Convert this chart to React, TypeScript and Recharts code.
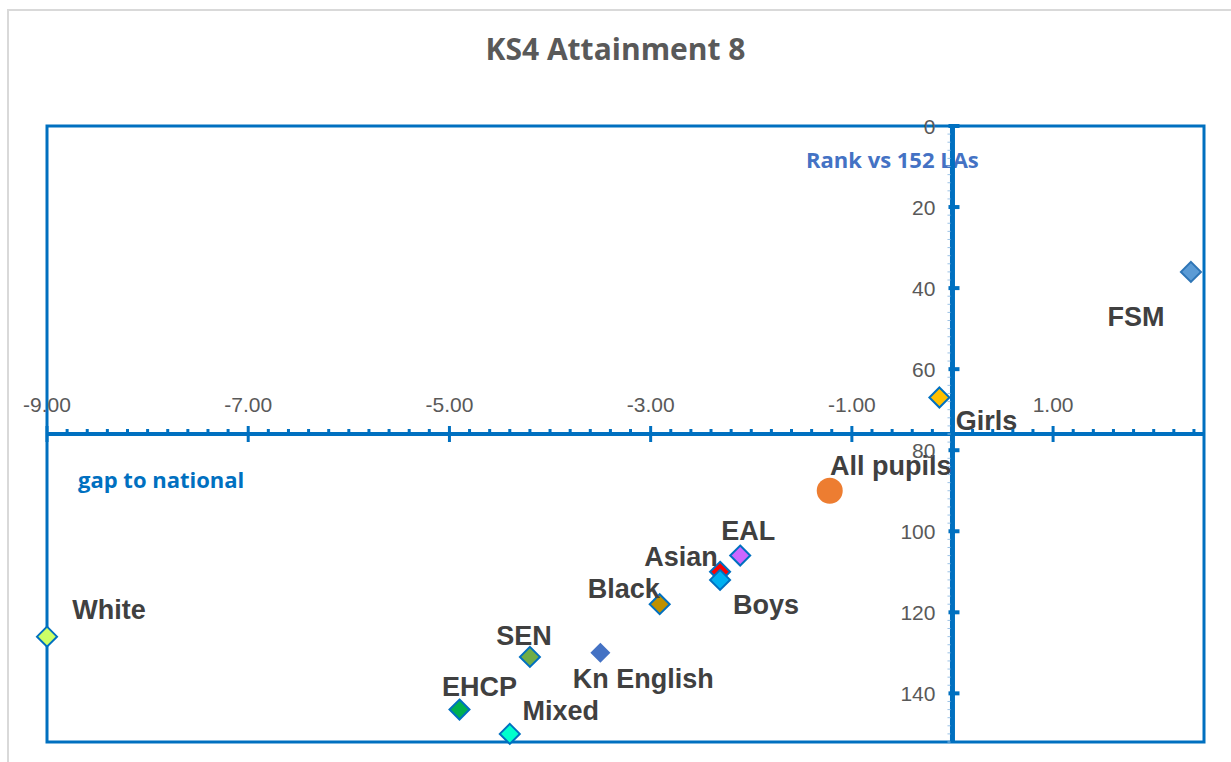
import React from "react";
import {
  ScatterChart,
  Scatter,
  XAxis,
  YAxis,
  ReferenceLine,
  ReferenceArea,
} from "recharts";

// pupil groups, in drawing order (Boys sits on top of Asian)
const groups = [
  "White",
  "EHCP",
  "Mixed",
  "SEN",
  "Kn English",
  "Black",
  "Asian",
  "Boys",
  "EAL",
  "All pupils",
  "Girls",
  "FSM",
];
const gapToNational = [-9.0, -4.9, -4.4, -4.2, -3.5, -2.91, -2.31, -2.31, -2.11, -1.22, -0.13, 2.37];
const rankVsLAs = [126, 144, 150, 131, 130, 118, 110, 112, 106, 90, 67, 36];

const xTickLabels = [-9, -7, -5, -3, -1, 1];
const yTickLabels = [0, 20, 40, 60, 80, 100, 120, 140];

const X_DOMAIN: [number, number] = [-9, 2.5];
const Y_DOMAIN: [number, number] = [0, 152];
const X_CROSS = 76; // x axis crosses the rank axis half way
const Y_CROSS = 0;

const W = 1231;
const H = 762;
// axes take 1px each, so plot area runs 47..1204 x 126..742
const margin = { top: 126, left: 46, right: 27, bottom: 19 };
const plotLeft = margin.left + 1;
const plotW = W - plotLeft - margin.right;
const plotH = H - margin.top - margin.bottom - 1;
const axisY = margin.top + ((X_CROSS - Y_DOMAIN[0]) / (Y_DOMAIN[1] - Y_DOMAIN[0])) * plotH;
const axisX = plotLeft + ((Y_CROSS - X_DOMAIN[0]) / (X_DOMAIN[1] - X_DOMAIN[0])) * plotW;

const BLUE = "#0070C0";

const markerStyle: Record<string, { fill: string; stroke?: string; circle?: boolean }> = {
  White: { fill: "#CCFF66", stroke: BLUE },
  EHCP: { fill: "#00B050", stroke: BLUE },
  Mixed: { fill: "#00FFCC", stroke: BLUE },
  SEN: { fill: "#70AD47", stroke: BLUE },
  "Kn English": { fill: "#4472C4" },
  Black: { fill: "#BF9000", stroke: BLUE },
  Asian: { fill: "#FF0000", stroke: BLUE },
  Boys: { fill: "#00B0F0", stroke: BLUE },
  EAL: { fill: "#CC66FF", stroke: BLUE },
  "All pupils": { fill: "#ED7D31", circle: true },
  Girls: { fill: "#FFC000", stroke: BLUE },
  FSM: { fill: "#5B9BD5", stroke: "#2E75B6" },
};

// where each data label sits relative to its marker
const labelOffset: Record<string, [number, number]> = {
  White: [62, -27],
  EHCP: [20, -23],
  Mixed: [51, -23],
  SEN: [-6, -21],
  "Kn English": [43, 26],
  Black: [-36, -15],
  Asian: [-39, -15],
  Boys: [46, 25],
  EAL: [8, -25],
  "All pupils": [61, -25],
  Girls: [47, 23],
  FSM: [-55, 45],
};

const points = groups.map((g, i) => ({
  name: g,
  gap: gapToNational[i],
  rank: rankVsLAs[i],
}));

const xMinorTicks = Array.from({ length: 58 }, (_, i) => Math.round((X_DOMAIN[0] + i * 0.2) * 10) / 10);
const yMinorTicks = Array.from({ length: 77 }, (_, i) => i * 2);

const XTick = (props: any) => {
  const { x, payload } = props;
  const major = xTickLabels.includes(payload.value);
  return (
    <g>
      <line
        x1={x}
        x2={x}
        y1={axisY - (major ? 8 : 5)}
        y2={axisY + (major ? 8 : 1)}
        stroke={BLUE}
        strokeWidth={3}
      />
      {major && (
        <text
          x={x}
          y={axisY - 30}
          textAnchor="middle"
          dominantBaseline="central"
          fill="#595959"
          fontSize={21}
          fontFamily="Liberation Sans, Arial, sans-serif"
        >
          {payload.value.toFixed(2)}
        </text>
      )}
    </g>
  );
};

const YTick = (props: any) => {
  const { y, payload } = props;
  const major = yTickLabels.includes(payload.value);
  if (!major) {
    return <line x1={axisX - 5} x2={axisX - 2} y1={y} y2={y} stroke="#9DC3E6" strokeWidth={1} />;
  }
  return (
    <g>
      <line x1={axisX - 4} x2={axisX + 7} y1={y} y2={y} stroke={BLUE} strokeWidth={4} />
      <text
        x={axisX - 17}
        y={y}
        textAnchor="end"
        dominantBaseline="central"
        fill="#595959"
        fontSize={21}
        fontFamily="Liberation Sans, Arial, sans-serif"
      >
        {payload.value}
      </text>
    </g>
  );
};

const GroupMarker = (props: any) => {
  const { cx, cy, payload } = props;
  const st = markerStyle[payload.name];
  const [dx, dy] = labelOffset[payload.name];
  const r = 10;
  return (
    <g>
      {st.circle ? (
        <circle cx={cx} cy={cy} r={13} fill={st.fill} />
      ) : (
        <path
          d={`M${cx},${cy - r} L${cx + r},${cy} L${cx},${cy + r} L${cx - r},${cy} Z`}
          fill={st.fill}
          stroke={st.stroke || "none"}
          strokeWidth={2}
        />
      )}
      <text
        x={cx + dx}
        y={cy + dy}
        textAnchor="middle"
        dominantBaseline="central"
        fill="#404040"
        fontSize={27}
        fontWeight="bold"
        fontFamily="Liberation Sans, Arial, sans-serif"
      >
        {payload.name}
      </text>
    </g>
  );
};

const App: React.FC = () => {
  return (
    <div
      style={{
        position: "absolute",
        left: 0,
        top: 0,
        width: W,
        height: H,
        overflow: "hidden",
        background: "#fff",
      }}
    >
      <div
        style={{
          position: "absolute",
          left: 7,
          top: 9,
          width: W,
          height: H,
          borderLeft: "2px solid #D9D9D9",
          borderTop: "2px solid #D9D9D9",
        }}
      />
      <div
        style={{
          position: "absolute",
          left: 0,
          width: W,
          top: 28,
          textAlign: "center",
          fontFamily: "Open Sans, sans-serif",
          fontWeight: "bold",
          fontSize: 30,
          color: "#595959",
        }}
      >
        KS4 Attainment 8
      </div>
      <div
        style={{
          position: "absolute",
          left: 806,
          top: 144,
          fontFamily: "Open Sans, sans-serif",
          fontWeight: "bold",
          fontSize: 22,
          color: "#4472C4",
        }}
      >
        Rank vs 152 LAs
      </div>
      <div
        style={{
          position: "absolute",
          left: 78,
          top: 464,
          fontFamily: "Open Sans, sans-serif",
          fontWeight: "bold",
          fontSize: 22,
          color: BLUE,
        }}
      >
        gap to national
      </div>
      <div style={{ position: "absolute", left: 0, top: 0 }}>
        <ScatterChart width={W} height={H} margin={margin}>
          <XAxis
            type="number"
            dataKey="gap"
            domain={X_DOMAIN}
            ticks={xMinorTicks}
            interval={0}
            height={1}
            axisLine={false}
            tickLine={false}
            tick={(p: any) => <XTick {...p} />}
          />
          <YAxis
            type="number"
            dataKey="rank"
            domain={Y_DOMAIN}
            reversed
            ticks={yMinorTicks}
            interval={0}
            width={1}
            axisLine={false}
            tickLine={false}
            tick={(p: any) => <YTick {...p} />}
          />
          <ReferenceArea
            x1={X_DOMAIN[0]}
            x2={X_DOMAIN[1]}
            y1={Y_DOMAIN[0]}
            y2={Y_DOMAIN[1]}
            fill="none"
            stroke={BLUE}
            strokeWidth={3}
            ifOverflow="visible"
          />
          <ReferenceLine y={X_CROSS} stroke={BLUE} strokeWidth={4} ifOverflow="visible" />
          <ReferenceLine x={Y_CROSS} stroke={BLUE} strokeWidth={5} ifOverflow="visible" />
          <Scatter data={points} shape={(p: any) => <GroupMarker {...p} />} isAnimationActive={false} />
        </ScatterChart>
      </div>
    </div>
  );
};

export default App;
